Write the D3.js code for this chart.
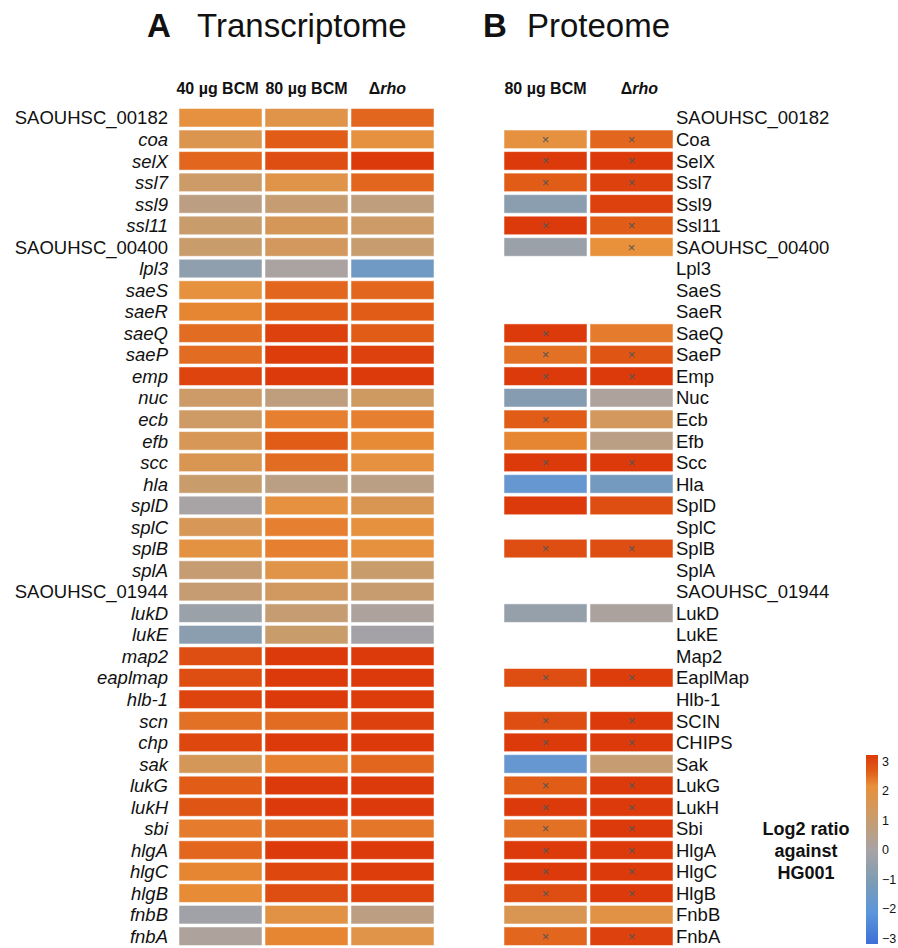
<!DOCTYPE html>
<html>
<head>
<meta charset="utf-8">
<script src="https://cdn.jsdelivr.net/npm/d3@7"></script>
<style>
body{margin:0;background:#fff}
svg text{font-family:"Liberation Sans",Arial,Helvetica,sans-serif;fill:#111}
</style>
</head>
<body>
<div id="chart"></div>
<script>
// genes as they appear in the transcriptome panel (top to bottom)
let genes=["SAOUHSC_00182","coa","selX","ssl7","ssl9","ssl11","SAOUHSC_00400","lpl3","saeS","saeR","saeQ","saeP","emp","nuc","ecb","efb","scc","hla","splD","splC","splB","splA","SAOUHSC_01944","lukD","lukE","map2","eaplmap","hlb-1","scn","chp","sak","lukG","lukH","sbi","hlgA","hlgC","hlgB","fnbB","fnbA"]
// protein names for the proteome panel
let proteins=["SAOUHSC_00182","Coa","SelX","Ssl7","Ssl9","Ssl11","SAOUHSC_00400","Lpl3","SaeS","SaeR","SaeQ","SaeP","Emp","Nuc","Ecb","Efb","Scc","Hla","SplD","SplC","SplB","SplA","SAOUHSC_01944","LukD","LukE","Map2","EaplMap","Hlb-1","SCIN","CHIPS","Sak","LukG","LukH","Sbi","HlgA","HlgC","HlgB","FnbB","FnbA"]

// log2 ratios, transcriptome
let t40=[1.9,1.6,2.4,1.1,0.6,1.0,1.0,-0.6,1.95,2.1,2.35,2.35,2.85,1.1,1.15,1.45,1.5,1.0,0.0,1.45,1.85,0.9,0.9,-0.3,-0.7,2.7,2.7,2.85,2.3,2.8,1.4,2.5,2.6,2.2,2.4,2.1,2.05,-0.2,0.15]
let t80=[1.7,2.5,2.7,1.7,0.9,1.4,1.3,0.05,2.4,2.5,2.9,2.95,3,0.7,2.15,2.5,2.35,0.55,1.9,2.15,2.15,1.7,1.25,0.9,1.0,3,3,3,2.35,3,2.15,3,3,2.35,3,2.8,2.7,1.8,2.1]
let trho=[2.4,1.9,3.0,2.4,0.7,1.1,0.95,-1.4,2.4,2.5,2.5,2.9,3,1.2,2.15,2.05,1.9,0.55,1.5,1.95,1.95,1.0,0.95,0.15,-0.1,3,3,2.95,2.9,3,2.4,3,3,2.25,3,2.95,2.85,0.6,1.7]
// log2 ratios, proteome (null = not detected)
let p80=[null,1.9,3.0,2.5,-0.7,3.0,-0.3,null,null,null,3.0,2.3,3,-0.8,2.5,2.1,3,-1.7,3.0,null,2.7,null,null,-0.45,null,null,2.7,null,2.7,3,-1.7,2.5,3,2.3,3,3,2.7,1.5,2.4]
let prho=[null,2.4,3.0,2.9,2.9,2.5,2.0,null,null,null,2.2,2.6,3,0.15,1.3,0.55,3,-1.3,2.7,null,2.7,null,null,0.1,null,null,2.95,null,3,3,0.9,3,3,3,3,3,3,1.8,2.9]
// significance marks (x) in the proteome
let sig80=[0,1,1,1,0,1,0,0,0,0,1,1,1,0,1,0,1,0,0,0,1,0,0,0,0,0,1,0,1,1,0,1,1,1,1,1,1,0,1]
let sigRho=[0,1,1,1,0,1,1,0,0,0,0,1,1,0,0,0,1,0,0,0,1,0,0,0,0,0,1,0,1,1,0,1,1,1,1,1,1,0,1]

let colTicks=[3,2,1,0,-1,-2,-3]

let width=898,height=948
const svg=d3.select("#chart").append("svg").attr("width",width).attr("height",height)

let color=d3.scaleLinear()
    .domain([-3,-2,-1,0,1,2,2.5,3])
    .range(["#3f6fd6","#5b95dc","#7e9cb4","#a8a3a4","#c99c6c","#e8903a","#e05c17","#dc3a0a"])
    .clamp(true)

let y=d3.scaleBand().domain(d3.range(genes.length)).range([107,947]).paddingInner(0.14).paddingOuter(0.07)
let xT=d3.scaleBand().domain(["t40","t80","trho"]).range([177.5,435.5]).paddingInner(0.035).paddingOuter(0.0175)
let xP=d3.scaleBand().domain(["p80","prho"]).range([502.5,674.5]).paddingInner(0.035).paddingOuter(0.0175)

// titles
svg.append("text").attr("x",147).attr("y",37).attr("font-size",33).attr("font-weight","bold").text("A")
svg.append("text").attr("x",197).attr("y",37).attr("font-size",33).text("Transcriptome")
svg.append("text").attr("x",483).attr("y",37).attr("font-size",33).attr("font-weight","bold").text("B")
svg.append("text").attr("x",527).attr("y",37).attr("font-size",33).text("Proteome")

// column headers
function header(x,txt,rho){
    let t=svg.append("text").attr("x",x).attr("y",94).attr("text-anchor","middle").attr("font-size",16).attr("font-weight","bold")
    if(rho){t.append("tspan").text("Δ");t.append("tspan").attr("font-style","italic").text("rho")}
    else t.text(txt)
}
header(xT("t40")+xT.bandwidth()/2-3,"40 µg BCM")
header(xT("t80")+xT.bandwidth()/2,"80 µg BCM")
header(xT("trho")+xT.bandwidth()/2-5,"",true)
header(xP("p80")+xP.bandwidth()/2,"80 µg BCM")
header(xP("prho")+xP.bandwidth()/2+8,"",true)

// row labels
svg.append("g").selectAll("text").data(genes).enter().append("text")
    .attr("x",168).attr("y",(d,i)=>y(i)+y.bandwidth()/2).attr("dy","0.36em")
    .attr("text-anchor","end").attr("font-size",18.5)
    .attr("font-style",d=>d.startsWith("SAOUHSC")?"normal":"italic")
    .text(d=>d)
svg.append("g").selectAll("text").data(proteins).enter().append("text")
    .attr("x",676).attr("y",(d,i)=>y(i)+y.bandwidth()/2).attr("dy","0.36em")
    .attr("font-size",18.5).text(d=>d)

// transcriptome cells
let tSeries={t40:t40,t80:t80,trho:trho}
Object.keys(tSeries).forEach(k=>{
    svg.append("g").selectAll("rect").data(tSeries[k]).enter().append("rect")
        .attr("x",xT(k)).attr("y",(d,i)=>y(i))
        .attr("width",xT.bandwidth()).attr("height",y.bandwidth())
        .attr("fill",d=>color(d)).attr("stroke","#fff").attr("stroke-opacity",0.5).attr("stroke-width",1)
})

// proteome cells + significance marks
let pSeries={p80:[p80,sig80],prho:[prho,sigRho]}
Object.keys(pSeries).forEach(k=>{
    let vals=pSeries[k][0],sig=pSeries[k][1]
    let rows=vals.map((v,i)=>({v:v,s:sig[i],i:i})).filter(d=>d.v!==null)
    let g=svg.append("g")
    g.selectAll("rect").data(rows).enter().append("rect")
        .attr("x",xP(k)).attr("y",d=>y(d.i))
        .attr("width",xP.bandwidth()).attr("height",y.bandwidth())
        .attr("fill",d=>color(d.v)).attr("stroke","#fff").attr("stroke-opacity",0.5).attr("stroke-width",1)
    g.selectAll("text").data(rows.filter(d=>d.s)).enter().append("text")
        .attr("x",xP(k)+xP.bandwidth()/2).attr("y",d=>y(d.i)+y.bandwidth()/2).attr("dy","0.35em")
        .attr("text-anchor","middle").attr("font-size",13).style("fill","#555").text("×")
})

// legend: colour bar
let yLeg=d3.scaleLinear().domain([-3,3]).range([938,761])
let defs=svg.append("defs")
let grad=defs.append("linearGradient").attr("id","cbar").attr("x1",0).attr("x2",0).attr("y1",1).attr("y2",0)
d3.range(-3,3.01,0.25).forEach(v=>{
    grad.append("stop").attr("offset",((v+3)/6*100)+"%").attr("stop-color",color(v))
})
svg.append("rect").attr("x",866).attr("y",yLeg(3)-6).attr("width",12).attr("height",yLeg(-3)-yLeg(3)+12).attr("fill","url(#cbar)")
svg.append("g").selectAll("text").data(colTicks).enter().append("text")
    .attr("x",882).attr("y",d=>yLeg(d)).attr("dy","0.36em").attr("font-size",12.5)
    .text(d=>d<0?"−"+Math.abs(d):d)

let legTitle=["Log2 ratio","against","HG001"]
svg.append("g").selectAll("text").data(legTitle).enter().append("text")
    .attr("x",806).attr("y",(d,i)=>835+i*22).attr("text-anchor","middle")
    .attr("font-size",18).attr("font-weight","bold").text(d=>d)
</script>
</body>
</html>
